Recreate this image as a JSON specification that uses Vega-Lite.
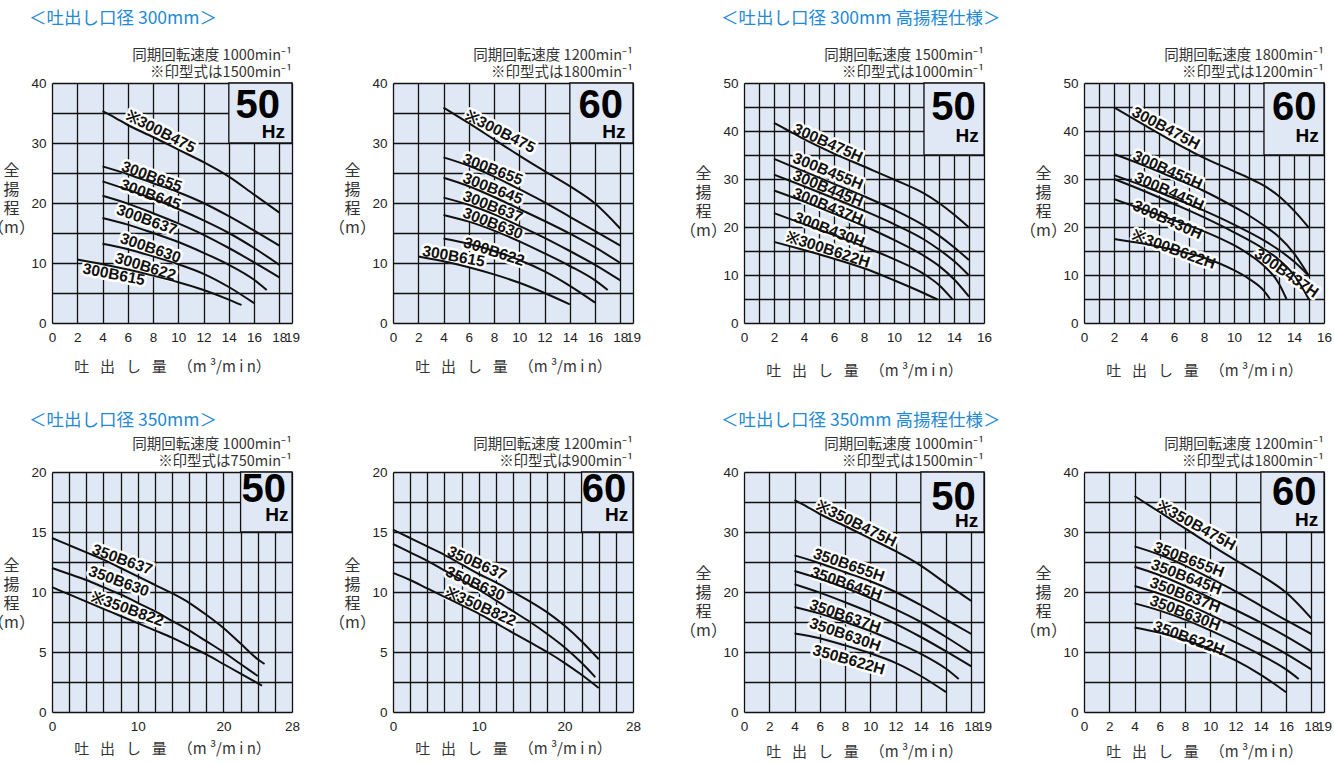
{
"$schema": "https://vega.github.io/schema/vega-lite/v6.json",
"padding": {"left": -13, "top": 10, "right": 0, "bottom": 0},
"datasets": {
"panels": [{"panel":1,"freq":"50"},{"panel":2,"freq":"60"},{"panel":3,"freq":"50"},{"panel":4,"freq":"60"},{"panel":5,"freq":"50"},{"panel":6,"freq":"60"},{"panel":7,"freq":"50"},{"panel":8,"freq":"60"}],
"labels": [
{"panel":1,"label":"※300B475","q":8.6,"h":31.9},{"panel":1,"label":"300B655","q":7.9,"h":24.4},{"panel":1,"label":"300B645","q":7.8,"h":21.4},{"panel":1,"label":"300B637","q":7.5,"h":17.2},{"panel":1,"label":"300B630","q":7.8,"h":12.5},{"panel":1,"label":"300B622","q":7.4,"h":9.4},{"panel":1,"label":"300B615","q":4.9,"h":8.1},
{"panel":2,"label":"※300B475","q":8.5,"h":31.9},{"panel":2,"label":"300B655","q":7.9,"h":25.6},{"panel":2,"label":"300B645","q":7.9,"h":22.4},{"panel":2,"label":"300B637","q":7.9,"h":19.4},{"panel":2,"label":"300B630","q":7.9,"h":16.6},{"panel":2,"label":"300B622","q":8.0,"h":11.9},{"panel":2,"label":"300B615","q":4.8,"h":11.1},
{"panel":3,"label":"300B475H","q":5.6,"h":37.5},{"panel":3,"label":"300B455H","q":5.6,"h":31.6},{"panel":3,"label":"300B445H","q":5.6,"h":28.0},{"panel":3,"label":"300B437H","q":5.6,"h":24.3},{"panel":3,"label":"300B430H","q":5.7,"h":19.4},{"panel":3,"label":"※300B622H","q":5.6,"h":15.3},
{"panel":4,"label":"300B475H","q":5.46,"h":40.6},{"panel":4,"label":"300B455H","q":5.57,"h":31.9},{"panel":4,"label":"300B445H","q":5.68,"h":27.4},{"panel":4,"label":"300B430H","q":5.57,"h":21.5},{"panel":4,"label":"※300B622H","q":6.0,"h":15.3},{"panel":4,"label":"300B437H","q":13.5,"h":10.4},
{"panel":5,"label":"350B637","q":8.2,"h":12.7},{"panel":5,"label":"350B630","q":7.8,"h":10.9},{"panel":5,"label":"※350B822","q":8.8,"h":8.6},
{"panel":6,"label":"350B637","q":9.8,"h":12.4},{"panel":6,"label":"350B630","q":9.6,"h":10.7},{"panel":6,"label":"※350B822","q":10.2,"h":8.8},
{"panel":7,"label":"※350B475H","q":8.9,"h":31.4},{"panel":7,"label":"350B655H","q":8.3,"h":24.5},{"panel":7,"label":"350B645H","q":8.1,"h":21.4},{"panel":7,"label":"350B637H","q":8.0,"h":16.0},{"panel":7,"label":"350B630H","q":8.0,"h":12.9},{"panel":7,"label":"350B622H","q":8.3,"h":8.7},
{"panel":8,"label":"※350B475H","q":8.9,"h":31.1},{"panel":8,"label":"350B655H","q":8.3,"h":25.4},{"panel":8,"label":"350B645H","q":8.1,"h":22.5},{"panel":8,"label":"350B637H","q":8.0,"h":19.5},{"panel":8,"label":"350B630H","q":8.0,"h":16.5},{"panel":8,"label":"350B622H","q":8.3,"h":12.3}
],
"curves": [
{"panel":1,"model":"300B475","q":4,"h":35.3},{"panel":1,"model":"300B475","q":5,"h":34.2},{"panel":1,"model":"300B475","q":6,"h":33.0},{"panel":1,"model":"300B475","q":8,"h":31.0},{"panel":1,"model":"300B475","q":10,"h":28.9},{"panel":1,"model":"300B475","q":12,"h":26.8},{"panel":1,"model":"300B475","q":14,"h":24.4},{"panel":1,"model":"300B475","q":16,"h":21.4},{"panel":1,"model":"300B475","q":18,"h":18.4},
{"panel":1,"model":"300B655","q":4,"h":26.1},{"panel":1,"model":"300B655","q":6,"h":24.8},{"panel":1,"model":"300B655","q":8,"h":23.3},{"panel":1,"model":"300B655","q":10,"h":21.8},{"panel":1,"model":"300B655","q":12,"h":20.0},{"panel":1,"model":"300B655","q":14,"h":17.8},{"panel":1,"model":"300B655","q":16,"h":15.4},{"panel":1,"model":"300B655","q":18,"h":12.9},
{"panel":1,"model":"300B645","q":4,"h":23.6},{"panel":1,"model":"300B645","q":6,"h":22.2},{"panel":1,"model":"300B645","q":8,"h":20.7},{"panel":1,"model":"300B645","q":10,"h":19.0},{"panel":1,"model":"300B645","q":12,"h":17.1},{"panel":1,"model":"300B645","q":14,"h":15.0},{"panel":1,"model":"300B645","q":16,"h":12.5},{"panel":1,"model":"300B645","q":18,"h":9.7},
{"panel":1,"model":"300B637","q":4,"h":21.2},{"panel":1,"model":"300B637","q":6,"h":19.9},{"panel":1,"model":"300B637","q":8,"h":18.3},{"panel":1,"model":"300B637","q":10,"h":16.6},{"panel":1,"model":"300B637","q":12,"h":14.7},{"panel":1,"model":"300B637","q":14,"h":12.5},{"panel":1,"model":"300B637","q":16,"h":10.1},{"panel":1,"model":"300B637","q":18,"h":7.6},
{"panel":1,"model":"300B630","q":4,"h":17.5},{"panel":1,"model":"300B630","q":6,"h":16.4},{"panel":1,"model":"300B630","q":8,"h":15.0},{"panel":1,"model":"300B630","q":10,"h":13.5},{"panel":1,"model":"300B630","q":12,"h":11.7},{"panel":1,"model":"300B630","q":14,"h":9.7},{"panel":1,"model":"300B630","q":16,"h":7.2},{"panel":1,"model":"300B630","q":17,"h":5.5},
{"panel":1,"model":"300B622","q":4,"h":13.2},{"panel":1,"model":"300B622","q":6,"h":12.3},{"panel":1,"model":"300B622","q":8,"h":11.1},{"panel":1,"model":"300B622","q":10,"h":9.8},{"panel":1,"model":"300B622","q":12,"h":8.2},{"panel":1,"model":"300B622","q":14,"h":6.0},{"panel":1,"model":"300B622","q":16,"h":3.3},
{"panel":1,"model":"300B615","q":2,"h":10.6},{"panel":1,"model":"300B615","q":4,"h":9.8},{"panel":1,"model":"300B615","q":6,"h":8.9},{"panel":1,"model":"300B615","q":8,"h":7.9},{"panel":1,"model":"300B615","q":10,"h":6.8},{"panel":1,"model":"300B615","q":12,"h":5.5},{"panel":1,"model":"300B615","q":14,"h":3.9},{"panel":1,"model":"300B615","q":15,"h":3.0},
{"panel":2,"model":"300B475","q":4,"h":35.9},{"panel":2,"model":"300B475","q":6,"h":33.3},{"panel":2,"model":"300B475","q":8,"h":30.6},{"panel":2,"model":"300B475","q":10,"h":27.9},{"panel":2,"model":"300B475","q":12,"h":25.3},{"panel":2,"model":"300B475","q":14,"h":22.8},{"panel":2,"model":"300B475","q":16,"h":19.9},{"panel":2,"model":"300B475","q":18,"h":15.7},
{"panel":2,"model":"300B655","q":4,"h":27.6},{"panel":2,"model":"300B655","q":6,"h":26.2},{"panel":2,"model":"300B655","q":8,"h":24.4},{"panel":2,"model":"300B655","q":10,"h":22.3},{"panel":2,"model":"300B655","q":12,"h":20.1},{"panel":2,"model":"300B655","q":14,"h":17.7},{"panel":2,"model":"300B655","q":16,"h":15.3},{"panel":2,"model":"300B655","q":18,"h":12.9},
{"panel":2,"model":"300B645","q":4,"h":24.2},{"panel":2,"model":"300B645","q":6,"h":22.8},{"panel":2,"model":"300B645","q":8,"h":21.0},{"panel":2,"model":"300B645","q":10,"h":19.0},{"panel":2,"model":"300B645","q":12,"h":17.0},{"panel":2,"model":"300B645","q":14,"h":14.9},{"panel":2,"model":"300B645","q":16,"h":12.6},{"panel":2,"model":"300B645","q":18,"h":10.0},
{"panel":2,"model":"300B637","q":4,"h":20.9},{"panel":2,"model":"300B637","q":6,"h":19.7},{"panel":2,"model":"300B637","q":8,"h":18.1},{"panel":2,"model":"300B637","q":10,"h":16.2},{"panel":2,"model":"300B637","q":12,"h":14.2},{"panel":2,"model":"300B637","q":14,"h":12.0},{"panel":2,"model":"300B637","q":16,"h":9.7},{"panel":2,"model":"300B637","q":18,"h":7.1},
{"panel":2,"model":"300B630","q":4,"h":18.0},{"panel":2,"model":"300B630","q":6,"h":16.9},{"panel":2,"model":"300B630","q":8,"h":15.4},{"panel":2,"model":"300B630","q":10,"h":13.6},{"panel":2,"model":"300B630","q":12,"h":11.6},{"panel":2,"model":"300B630","q":14,"h":9.5},{"panel":2,"model":"300B630","q":16,"h":7.1},{"panel":2,"model":"300B630","q":17,"h":5.5},
{"panel":2,"model":"300B622","q":4,"h":14.1},{"panel":2,"model":"300B622","q":6,"h":13.2},{"panel":2,"model":"300B622","q":8,"h":12.0},{"panel":2,"model":"300B622","q":10,"h":10.5},{"panel":2,"model":"300B622","q":12,"h":8.6},{"panel":2,"model":"300B622","q":14,"h":6.2},{"panel":2,"model":"300B622","q":16,"h":3.4},
{"panel":2,"model":"300B615","q":2,"h":11.1},{"panel":2,"model":"300B615","q":4,"h":10.3},{"panel":2,"model":"300B615","q":6,"h":9.3},{"panel":2,"model":"300B615","q":8,"h":8.1},{"panel":2,"model":"300B615","q":10,"h":6.7},{"panel":2,"model":"300B615","q":12,"h":5.0},{"panel":2,"model":"300B615","q":14,"h":3.1},
{"panel":3,"model":"300B475H","q":2,"h":41.7},{"panel":3,"model":"300B475H","q":3,"h":40.0},{"panel":3,"model":"300B475H","q":4,"h":38.3},{"panel":3,"model":"300B475H","q":6,"h":35.3},{"panel":3,"model":"300B475H","q":8,"h":32.6},{"panel":3,"model":"300B475H","q":10,"h":29.9},{"panel":3,"model":"300B475H","q":12,"h":27.0},{"panel":3,"model":"300B475H","q":13,"h":25.0},{"panel":3,"model":"300B475H","q":14,"h":22.6},{"panel":3,"model":"300B475H","q":15,"h":19.9},
{"panel":3,"model":"300B455H","q":2,"h":34.2},{"panel":3,"model":"300B455H","q":4,"h":31.6},{"panel":3,"model":"300B455H","q":6,"h":29.0},{"panel":3,"model":"300B455H","q":8,"h":26.4},{"panel":3,"model":"300B455H","q":10,"h":23.6},{"panel":3,"model":"300B455H","q":12,"h":20.3},{"panel":3,"model":"300B455H","q":13,"h":18.2},{"panel":3,"model":"300B455H","q":14,"h":15.8},{"panel":3,"model":"300B455H","q":15,"h":13.1},
{"panel":3,"model":"300B445H","q":2,"h":30.9},{"panel":3,"model":"300B445H","q":4,"h":28.5},{"panel":3,"model":"300B445H","q":6,"h":26.0},{"panel":3,"model":"300B445H","q":8,"h":23.4},{"panel":3,"model":"300B445H","q":10,"h":20.6},{"panel":3,"model":"300B445H","q":12,"h":17.4},{"panel":3,"model":"300B445H","q":13,"h":15.3},{"panel":3,"model":"300B445H","q":14,"h":12.9},{"panel":3,"model":"300B445H","q":15,"h":9.9},
{"panel":3,"model":"300B437H","q":2,"h":27.6},{"panel":3,"model":"300B437H","q":4,"h":25.3},{"panel":3,"model":"300B437H","q":6,"h":22.8},{"panel":3,"model":"300B437H","q":8,"h":20.2},{"panel":3,"model":"300B437H","q":10,"h":17.3},{"panel":3,"model":"300B437H","q":12,"h":14.0},{"panel":3,"model":"300B437H","q":13,"h":11.9},{"panel":3,"model":"300B437H","q":14,"h":9.1},{"panel":3,"model":"300B437H","q":15,"h":5.5},
{"panel":3,"model":"300B430H","q":2,"h":22.9},{"panel":3,"model":"300B430H","q":4,"h":20.6},{"panel":3,"model":"300B430H","q":6,"h":18.3},{"panel":3,"model":"300B430H","q":8,"h":15.9},{"panel":3,"model":"300B430H","q":10,"h":13.3},{"panel":3,"model":"300B430H","q":12,"h":10.2},{"panel":3,"model":"300B430H","q":13,"h":7.9},{"panel":3,"model":"300B430H","q":13.9,"h":4.9},
{"panel":3,"model":"300B622H","q":2,"h":16.9},{"panel":3,"model":"300B622H","q":4,"h":15.2},{"panel":3,"model":"300B622H","q":6,"h":13.4},{"panel":3,"model":"300B622H","q":8,"h":11.4},{"panel":3,"model":"300B622H","q":10,"h":8.9},{"panel":3,"model":"300B622H","q":12,"h":6.2},{"panel":3,"model":"300B622H","q":12.9,"h":4.9},
{"panel":4,"model":"300B475H","q":2,"h":44.9},{"panel":4,"model":"300B475H","q":4,"h":41.3},{"panel":4,"model":"300B475H","q":6,"h":37.7},{"panel":4,"model":"300B475H","q":8,"h":34.4},{"panel":4,"model":"300B475H","q":10,"h":31.6},{"panel":4,"model":"300B475H","q":11,"h":30.2},{"panel":4,"model":"300B475H","q":12,"h":28.6},{"panel":4,"model":"300B475H","q":13,"h":26.4},{"panel":4,"model":"300B475H","q":14,"h":23.4},{"panel":4,"model":"300B475H","q":15,"h":19.8},
{"panel":4,"model":"300B455H","q":2,"h":35.2},{"panel":4,"model":"300B455H","q":4,"h":32.8},{"panel":4,"model":"300B455H","q":6,"h":30.2},{"panel":4,"model":"300B455H","q":8,"h":27.5},{"panel":4,"model":"300B455H","q":10,"h":24.2},{"panel":4,"model":"300B455H","q":11,"h":22.4},{"panel":4,"model":"300B455H","q":12,"h":20.3},{"panel":4,"model":"300B455H","q":13,"h":17.9},{"panel":4,"model":"300B455H","q":14,"h":14.5},{"panel":4,"model":"300B455H","q":15,"h":9.8},
{"panel":4,"model":"300B445H","q":2,"h":30.8},{"panel":4,"model":"300B445H","q":4,"h":28.5},{"panel":4,"model":"300B445H","q":6,"h":26.0},{"panel":4,"model":"300B445H","q":8,"h":23.4},{"panel":4,"model":"300B445H","q":10,"h":20.5},{"panel":4,"model":"300B445H","q":12,"h":17.2},{"panel":4,"model":"300B445H","q":13,"h":15.2},{"panel":4,"model":"300B445H","q":14,"h":12.8},{"panel":4,"model":"300B445H","q":15,"h":9.8},
{"panel":4,"model":"300B437H","q":2,"h":30.0},{"panel":4,"model":"300B437H","q":4,"h":27.5},{"panel":4,"model":"300B437H","q":6,"h":24.8},{"panel":4,"model":"300B437H","q":8,"h":22.0},{"panel":4,"model":"300B437H","q":10,"h":18.9},{"panel":4,"model":"300B437H","q":12,"h":15.4},{"panel":4,"model":"300B437H","q":13,"h":13.2},{"panel":4,"model":"300B437H","q":14,"h":10.0},{"panel":4,"model":"300B437H","q":15,"h":4.9},
{"panel":4,"model":"300B430H","q":2,"h":25.8},{"panel":4,"model":"300B430H","q":4,"h":23.6},{"panel":4,"model":"300B430H","q":6,"h":21.4},{"panel":4,"model":"300B430H","q":8,"h":19.1},{"panel":4,"model":"300B430H","q":10,"h":16.2},{"panel":4,"model":"300B430H","q":11,"h":14.3},{"panel":4,"model":"300B430H","q":12,"h":11.9},{"panel":4,"model":"300B430H","q":13,"h":8.2},{"panel":4,"model":"300B430H","q":13.5,"h":5.0},
{"panel":4,"model":"300B622H","q":2,"h":17.5},{"panel":4,"model":"300B622H","q":4,"h":16.5},{"panel":4,"model":"300B622H","q":6,"h":15.2},{"panel":4,"model":"300B622H","q":8,"h":13.6},{"panel":4,"model":"300B622H","q":10,"h":11.0},{"panel":4,"model":"300B622H","q":11,"h":9.2},{"panel":4,"model":"300B622H","q":12,"h":6.7},{"panel":4,"model":"300B622H","q":12.4,"h":5.0},
{"panel":5,"model":"350B637","q":0,"h":14.5},{"panel":5,"model":"350B637","q":2,"h":13.9},{"panel":5,"model":"350B637","q":4,"h":13.3},{"panel":5,"model":"350B637","q":6,"h":12.7},{"panel":5,"model":"350B637","q":8,"h":12.0},{"panel":5,"model":"350B637","q":10,"h":11.3},{"panel":5,"model":"350B637","q":12,"h":10.6},{"panel":5,"model":"350B637","q":14,"h":9.9},{"panel":5,"model":"350B637","q":16,"h":9.1},{"panel":5,"model":"350B637","q":18,"h":8.1},{"panel":5,"model":"350B637","q":20,"h":7.0},{"panel":5,"model":"350B637","q":22,"h":5.7},{"panel":5,"model":"350B637","q":24,"h":4.4},{"panel":5,"model":"350B637","q":24.8,"h":4.0},
{"panel":5,"model":"350B630","q":0,"h":12.0},{"panel":5,"model":"350B630","q":2,"h":11.5},{"panel":5,"model":"350B630","q":4,"h":11.0},{"panel":5,"model":"350B630","q":6,"h":10.4},{"panel":5,"model":"350B630","q":8,"h":9.8},{"panel":5,"model":"350B630","q":10,"h":9.1},{"panel":5,"model":"350B630","q":12,"h":8.4},{"panel":5,"model":"350B630","q":14,"h":7.6},{"panel":5,"model":"350B630","q":16,"h":6.8},{"panel":5,"model":"350B630","q":18,"h":5.9},{"panel":5,"model":"350B630","q":20,"h":5.0},{"panel":5,"model":"350B630","q":22,"h":4.0},{"panel":5,"model":"350B630","q":24,"h":3.0},
{"panel":5,"model":"350B822","q":0,"h":10.4},{"panel":5,"model":"350B822","q":2,"h":9.8},{"panel":5,"model":"350B822","q":4,"h":9.2},{"panel":5,"model":"350B822","q":6,"h":8.6},{"panel":5,"model":"350B822","q":8,"h":8.0},{"panel":5,"model":"350B822","q":10,"h":7.4},{"panel":5,"model":"350B822","q":12,"h":6.8},{"panel":5,"model":"350B822","q":14,"h":6.2},{"panel":5,"model":"350B822","q":16,"h":5.5},{"panel":5,"model":"350B822","q":18,"h":4.8},{"panel":5,"model":"350B822","q":20,"h":4.0},{"panel":5,"model":"350B822","q":22,"h":3.2},{"panel":5,"model":"350B822","q":24.5,"h":2.2},
{"panel":6,"model":"350B637","q":0,"h":15.2},{"panel":6,"model":"350B637","q":2,"h":14.5},{"panel":6,"model":"350B637","q":4,"h":13.8},{"panel":6,"model":"350B637","q":6,"h":13.1},{"panel":6,"model":"350B637","q":8,"h":12.3},{"panel":6,"model":"350B637","q":10,"h":11.5},{"panel":6,"model":"350B637","q":12,"h":10.8},{"panel":6,"model":"350B637","q":14,"h":10.0},{"panel":6,"model":"350B637","q":16,"h":9.2},{"panel":6,"model":"350B637","q":18,"h":8.3},{"panel":6,"model":"350B637","q":20,"h":7.2},{"panel":6,"model":"350B637","q":22,"h":5.9},{"panel":6,"model":"350B637","q":24,"h":4.4},
{"panel":6,"model":"350B630","q":0,"h":14.0},{"panel":6,"model":"350B630","q":2,"h":13.3},{"panel":6,"model":"350B630","q":4,"h":12.6},{"panel":6,"model":"350B630","q":6,"h":11.8},{"panel":6,"model":"350B630","q":8,"h":11.0},{"panel":6,"model":"350B630","q":10,"h":10.2},{"panel":6,"model":"350B630","q":12,"h":9.3},{"panel":6,"model":"350B630","q":14,"h":8.4},{"panel":6,"model":"350B630","q":16,"h":7.5},{"panel":6,"model":"350B630","q":18,"h":6.5},{"panel":6,"model":"350B630","q":20,"h":5.4},{"panel":6,"model":"350B630","q":22,"h":4.1},{"panel":6,"model":"350B630","q":23.6,"h":2.9},
{"panel":6,"model":"350B822","q":0,"h":11.6},{"panel":6,"model":"350B822","q":2,"h":11.0},{"panel":6,"model":"350B822","q":4,"h":10.3},{"panel":6,"model":"350B822","q":6,"h":9.6},{"panel":6,"model":"350B822","q":8,"h":8.9},{"panel":6,"model":"350B822","q":10,"h":8.2},{"panel":6,"model":"350B822","q":12,"h":7.4},{"panel":6,"model":"350B822","q":14,"h":6.6},{"panel":6,"model":"350B822","q":16,"h":5.8},{"panel":6,"model":"350B822","q":18,"h":5.0},{"panel":6,"model":"350B822","q":20,"h":4.1},{"panel":6,"model":"350B822","q":22,"h":3.1},{"panel":6,"model":"350B822","q":24,"h":2.0},
{"panel":7,"model":"350B475H","q":4,"h":35.3},{"panel":7,"model":"350B475H","q":5,"h":34.2},{"panel":7,"model":"350B475H","q":6,"h":33.0},{"panel":7,"model":"350B475H","q":8,"h":31.0},{"panel":7,"model":"350B475H","q":10,"h":28.9},{"panel":7,"model":"350B475H","q":12,"h":26.8},{"panel":7,"model":"350B475H","q":14,"h":24.4},{"panel":7,"model":"350B475H","q":16,"h":21.4},{"panel":7,"model":"350B475H","q":18,"h":18.5},
{"panel":7,"model":"350B655H","q":4,"h":26.1},{"panel":7,"model":"350B655H","q":6,"h":24.8},{"panel":7,"model":"350B655H","q":8,"h":23.3},{"panel":7,"model":"350B655H","q":10,"h":21.8},{"panel":7,"model":"350B655H","q":12,"h":20.0},{"panel":7,"model":"350B655H","q":14,"h":17.8},{"panel":7,"model":"350B655H","q":16,"h":15.4},{"panel":7,"model":"350B655H","q":18,"h":13.0},
{"panel":7,"model":"350B645H","q":4,"h":23.5},{"panel":7,"model":"350B645H","q":6,"h":22.2},{"panel":7,"model":"350B645H","q":8,"h":20.7},{"panel":7,"model":"350B645H","q":10,"h":19.0},{"panel":7,"model":"350B645H","q":12,"h":17.1},{"panel":7,"model":"350B645H","q":14,"h":15.0},{"panel":7,"model":"350B645H","q":16,"h":12.5},{"panel":7,"model":"350B645H","q":18,"h":9.8},
{"panel":7,"model":"350B637H","q":4,"h":21.3},{"panel":7,"model":"350B637H","q":6,"h":19.9},{"panel":7,"model":"350B637H","q":8,"h":18.3},{"panel":7,"model":"350B637H","q":10,"h":16.6},{"panel":7,"model":"350B637H","q":12,"h":14.7},{"panel":7,"model":"350B637H","q":14,"h":12.5},{"panel":7,"model":"350B637H","q":16,"h":10.1},{"panel":7,"model":"350B637H","q":18,"h":7.6},
{"panel":7,"model":"350B630H","q":4,"h":17.5},{"panel":7,"model":"350B630H","q":6,"h":16.4},{"panel":7,"model":"350B630H","q":8,"h":15.0},{"panel":7,"model":"350B630H","q":10,"h":13.5},{"panel":7,"model":"350B630H","q":12,"h":11.7},{"panel":7,"model":"350B630H","q":14,"h":9.7},{"panel":7,"model":"350B630H","q":16,"h":7.2},{"panel":7,"model":"350B630H","q":17,"h":5.5},
{"panel":7,"model":"350B622H","q":4,"h":13.1},{"panel":7,"model":"350B622H","q":6,"h":12.3},{"panel":7,"model":"350B622H","q":8,"h":11.1},{"panel":7,"model":"350B622H","q":10,"h":9.8},{"panel":7,"model":"350B622H","q":12,"h":8.2},{"panel":7,"model":"350B622H","q":14,"h":6.0},{"panel":7,"model":"350B622H","q":16,"h":3.3},
{"panel":8,"model":"350B475H","q":4,"h":36.0},{"panel":8,"model":"350B475H","q":6,"h":33.3},{"panel":8,"model":"350B475H","q":8,"h":30.6},{"panel":8,"model":"350B475H","q":10,"h":27.9},{"panel":8,"model":"350B475H","q":12,"h":25.3},{"panel":8,"model":"350B475H","q":14,"h":22.8},{"panel":8,"model":"350B475H","q":16,"h":19.9},{"panel":8,"model":"350B475H","q":18,"h":15.6},
{"panel":8,"model":"350B655H","q":4,"h":27.6},{"panel":8,"model":"350B655H","q":6,"h":26.2},{"panel":8,"model":"350B655H","q":8,"h":24.4},{"panel":8,"model":"350B655H","q":10,"h":22.3},{"panel":8,"model":"350B655H","q":12,"h":20.1},{"panel":8,"model":"350B655H","q":14,"h":17.7},{"panel":8,"model":"350B655H","q":16,"h":15.3},{"panel":8,"model":"350B655H","q":18,"h":13.0},
{"panel":8,"model":"350B645H","q":4,"h":24.2},{"panel":8,"model":"350B645H","q":6,"h":22.8},{"panel":8,"model":"350B645H","q":8,"h":21.0},{"panel":8,"model":"350B645H","q":10,"h":19.0},{"panel":8,"model":"350B645H","q":12,"h":17.0},{"panel":8,"model":"350B645H","q":14,"h":14.9},{"panel":8,"model":"350B645H","q":16,"h":12.6},{"panel":8,"model":"350B645H","q":18,"h":10.1},
{"panel":8,"model":"350B637H","q":4,"h":21.0},{"panel":8,"model":"350B637H","q":6,"h":19.7},{"panel":8,"model":"350B637H","q":8,"h":18.1},{"panel":8,"model":"350B637H","q":10,"h":16.2},{"panel":8,"model":"350B637H","q":12,"h":14.2},{"panel":8,"model":"350B637H","q":14,"h":12.0},{"panel":8,"model":"350B637H","q":16,"h":9.7},{"panel":8,"model":"350B637H","q":18,"h":7.1},
{"panel":8,"model":"350B630H","q":4,"h":18.1},{"panel":8,"model":"350B630H","q":6,"h":16.9},{"panel":8,"model":"350B630H","q":8,"h":15.4},{"panel":8,"model":"350B630H","q":10,"h":13.6},{"panel":8,"model":"350B630H","q":12,"h":11.6},{"panel":8,"model":"350B630H","q":14,"h":9.5},{"panel":8,"model":"350B630H","q":16,"h":7.1},{"panel":8,"model":"350B630H","q":17,"h":5.5},
{"panel":8,"model":"350B622H","q":4,"h":14.1},{"panel":8,"model":"350B622H","q":6,"h":13.2},{"panel":8,"model":"350B622H","q":8,"h":12.0},{"panel":8,"model":"350B622H","q":10,"h":10.5},{"panel":8,"model":"350B622H","q":12,"h":8.6},{"panel":8,"model":"350B622H","q":14,"h":6.2},{"panel":8,"model":"350B622H","q":16,"h":3.3}
]
},
"resolve": {"scale": {"angle": "independent"}},
"spacing": 33,
"vconcat": [
{"hconcat": [
{"title": {"text": "＜吐出し口径 300mm＞", "anchor": "start", "frame": "group", "align": "left", "dx": -23, "color": "#2489d3", "fontSize": 17.5, "offset": 20},
 "bounds": "flush", "spacing": 101, "resolve": {"scale": {"angle": "independent"}},
 "hconcat": [
{"width": 240, "height": 240, "title": {"text": ["同期回転速度 1000min⁻¹", "※印型式は1500min⁻¹"]},
 "layer": [
 {"data": {"name": "panels"}, "transform": [{"filter": "datum.panel == 1"}], "mark": {"type": "rect", "fill": "#dfe8f4", "stroke": "#111111", "strokeWidth": 1.3}, "encoding": {"x": {"datum": 14}, "x2": {"datum": 19}, "y": {"datum": 30}, "y2": {"datum": 40}}},
 {"data": {"name": "labels"}, "transform": [{"filter": "datum.panel == 1"}], "mark": {"type": "text", "font": "Liberation Sans", "fontWeight": "bold", "fontSize": 15.5, "fill": "#ffffff", "stroke": "#ffffff", "strokeWidth": 5, "strokeJoin": "round"}, "encoding": {"x": {"field": "q", "type": "quantitative"}, "y": {"field": "h", "type": "quantitative"}, "text": {"field": "label"}, "angle": {"field": "label", "type": "nominal", "scale": {"type": "ordinal", "domain": ["※300B475","300B655","300B645","300B637","300B630","300B622","300B615"], "range": [27,20,20,20,19,17,11]}, "legend": null}}},
 {"data": {"name": "curves"}, "transform": [{"filter": "datum.panel == 1"}], "mark": {"type": "line", "color": "#111111", "strokeWidth": 2, "interpolate": "monotone"}, "encoding": {"x": {"field": "q", "type": "quantitative", "scale": {"domain": [0, 19], "nice": false, "zero": false}, "axis": {"title": "吐\u2002 出\u2002 し\u2002 量\u2002 （m ³/m i n）", "values": [0,2,4,6,8,10,12,14,16,18,19]}}, "y": {"field": "h", "type": "quantitative", "scale": {"domain": [0, 40], "nice": false}, "axis": {"title": ["全","揚","程","（m）"], "values": [0,5,10,15,20,25,30,35,40], "labelExpr": "datum.value % 10 === 0 ? datum.label : ''"}}, "detail": {"field": "model"}}},
 {"data": {"name": "labels"}, "transform": [{"filter": "datum.panel == 1"}], "mark": {"type": "text", "font": "Liberation Sans", "fontWeight": "bold", "fontSize": 15.5, "fill": "#111111"}, "encoding": {"x": {"field": "q", "type": "quantitative"}, "y": {"field": "h", "type": "quantitative"}, "text": {"field": "label"}, "angle": {"field": "label", "type": "nominal", "scale": {"type": "ordinal", "domain": ["※300B475","300B655","300B645","300B637","300B630","300B622","300B615"], "range": [27,20,20,20,19,17,11]}, "legend": null}}},
 {"data": {"name": "panels"}, "transform": [{"filter": "datum.panel == 1"}], "mark": {"type": "text", "font": "Liberation Sans", "fontWeight": "bold", "fontSize": 40, "align": "right", "baseline": "alphabetic", "fill": "#000000"}, "encoding": {"x": {"datum": 18.05}, "y": {"datum": 34.2}, "text": {"field": "freq"}}},
 {"data": {"name": "panels"}, "transform": [{"filter": "datum.panel == 1"}], "mark": {"type": "text", "text": "Hz", "font": "Liberation Sans", "fontWeight": "bold", "fontSize": 19, "align": "right", "baseline": "alphabetic", "fill": "#000000"}, "encoding": {"x": {"datum": 18.45}, "y": {"datum": 30.8}}}
 ]},
{"width": 240, "height": 240, "title": {"text": ["同期回転速度 1200min⁻¹", "※印型式は1800min⁻¹"]},
 "layer": [
 {"data": {"name": "panels"}, "transform": [{"filter": "datum.panel == 2"}], "mark": {"type": "rect", "fill": "#dfe8f4", "stroke": "#111111", "strokeWidth": 1.3}, "encoding": {"x": {"datum": 14}, "x2": {"datum": 19}, "y": {"datum": 30}, "y2": {"datum": 40}}},
 {"data": {"name": "labels"}, "transform": [{"filter": "datum.panel == 2"}], "mark": {"type": "text", "font": "Liberation Sans", "fontWeight": "bold", "fontSize": 15.5, "fill": "#ffffff", "stroke": "#ffffff", "strokeWidth": 5, "strokeJoin": "round"}, "encoding": {"x": {"field": "q", "type": "quantitative"}, "y": {"field": "h", "type": "quantitative"}, "text": {"field": "label"}, "angle": {"field": "label", "type": "nominal", "scale": {"type": "ordinal", "domain": ["※300B475","300B655","300B645","300B637","300B630","300B622","300B615"], "range": [27,21,21,21,21,18,10]}, "legend": null}}},
 {"data": {"name": "curves"}, "transform": [{"filter": "datum.panel == 2"}], "mark": {"type": "line", "color": "#111111", "strokeWidth": 2, "interpolate": "monotone"}, "encoding": {"x": {"field": "q", "type": "quantitative", "scale": {"domain": [0, 19], "nice": false, "zero": false}, "axis": {"title": "吐\u2002 出\u2002 し\u2002 量\u2002 （m ³/m i n）", "values": [0,2,4,6,8,10,12,14,16,18,19]}}, "y": {"field": "h", "type": "quantitative", "scale": {"domain": [0, 40], "nice": false}, "axis": {"title": ["全","揚","程","（m）"], "values": [0,5,10,15,20,25,30,35,40], "labelExpr": "datum.value % 10 === 0 ? datum.label : ''"}}, "detail": {"field": "model"}}},
 {"data": {"name": "labels"}, "transform": [{"filter": "datum.panel == 2"}], "mark": {"type": "text", "font": "Liberation Sans", "fontWeight": "bold", "fontSize": 15.5, "fill": "#111111"}, "encoding": {"x": {"field": "q", "type": "quantitative"}, "y": {"field": "h", "type": "quantitative"}, "text": {"field": "label"}, "angle": {"field": "label", "type": "nominal", "scale": {"type": "ordinal", "domain": ["※300B475","300B655","300B645","300B637","300B630","300B622","300B615"], "range": [27,21,21,21,21,18,10]}, "legend": null}}},
 {"data": {"name": "panels"}, "transform": [{"filter": "datum.panel == 2"}], "mark": {"type": "text", "font": "Liberation Sans", "fontWeight": "bold", "fontSize": 40, "align": "right", "baseline": "alphabetic", "fill": "#000000"}, "encoding": {"x": {"datum": 18.2}, "y": {"datum": 34.2}, "text": {"field": "freq"}}},
 {"data": {"name": "panels"}, "transform": [{"filter": "datum.panel == 2"}], "mark": {"type": "text", "text": "Hz", "font": "Liberation Sans", "fontWeight": "bold", "fontSize": 19, "align": "right", "baseline": "alphabetic", "fill": "#000000"}, "encoding": {"x": {"datum": 18.4}, "y": {"datum": 30.8}}}
 ]}
]},
{"title": {"text": "＜吐出し口径 300mm 高揚程仕様＞", "anchor": "start", "frame": "group", "align": "left", "dx": -23, "color": "#2489d3", "fontSize": 17.5, "offset": 20},
 "bounds": "flush", "spacing": 100, "resolve": {"scale": {"angle": "independent"}},
 "hconcat": [
{"width": 240, "height": 240, "title": {"text": ["同期回転速度 1500min⁻¹", "※印型式は1000min⁻¹"]},
 "layer": [
 {"data": {"name": "panels"}, "transform": [{"filter": "datum.panel == 3"}], "mark": {"type": "rect", "fill": "#dfe8f4", "stroke": "#111111", "strokeWidth": 1.3}, "encoding": {"x": {"datum": 12}, "x2": {"datum": 16}, "y": {"datum": 35}, "y2": {"datum": 50}}},
 {"data": {"name": "labels"}, "transform": [{"filter": "datum.panel == 3"}], "mark": {"type": "text", "font": "Liberation Sans", "fontWeight": "bold", "fontSize": 15.5, "fill": "#ffffff", "stroke": "#ffffff", "strokeWidth": 5, "strokeJoin": "round"}, "encoding": {"x": {"field": "q", "type": "quantitative"}, "y": {"field": "h", "type": "quantitative"}, "text": {"field": "label"}, "angle": {"field": "label", "type": "nominal", "scale": {"type": "ordinal", "domain": ["300B475H","300B455H","300B445H","300B437H","300B430H","※300B622H"], "range": [24,22,22,22,21,18]}, "legend": null}}},
 {"data": {"name": "curves"}, "transform": [{"filter": "datum.panel == 3"}], "mark": {"type": "line", "color": "#111111", "strokeWidth": 2, "interpolate": "monotone"}, "encoding": {"x": {"field": "q", "type": "quantitative", "scale": {"domain": [0, 16], "nice": false, "zero": false}, "axis": {"title": "吐\u2002 出\u2002 し\u2002 量\u2002 （m ³/m i n）", "titlePadding": 20, "values": [0,1,2,3,4,5,6,7,8,9,10,11,12,13,14,15,16], "labelExpr": "datum.value % 2 === 0 ? datum.label : ''"}}, "y": {"field": "h", "type": "quantitative", "scale": {"domain": [0, 50], "nice": false}, "axis": {"title": ["全","揚","程","（m）"], "titleY": 90, "values": [0,5,10,15,20,25,30,35,40,45,50], "labelExpr": "datum.value % 10 === 0 ? datum.label : ''"}}, "detail": {"field": "model"}}},
 {"data": {"name": "labels"}, "transform": [{"filter": "datum.panel == 3"}], "mark": {"type": "text", "font": "Liberation Sans", "fontWeight": "bold", "fontSize": 15.5, "fill": "#111111"}, "encoding": {"x": {"field": "q", "type": "quantitative"}, "y": {"field": "h", "type": "quantitative"}, "text": {"field": "label"}, "angle": {"field": "label", "type": "nominal", "scale": {"type": "ordinal", "domain": ["300B475H","300B455H","300B445H","300B437H","300B430H","※300B622H"], "range": [24,22,22,22,21,18]}, "legend": null}}},
 {"data": {"name": "panels"}, "transform": [{"filter": "datum.panel == 3"}], "mark": {"type": "text", "font": "Liberation Sans", "fontWeight": "bold", "fontSize": 40, "align": "right", "baseline": "alphabetic", "fill": "#000000"}, "encoding": {"x": {"datum": 15.45}, "y": {"datum": 42.3}, "text": {"field": "freq"}}},
 {"data": {"name": "panels"}, "transform": [{"filter": "datum.panel == 3"}], "mark": {"type": "text", "text": "Hz", "font": "Liberation Sans", "fontWeight": "bold", "fontSize": 19, "align": "right", "baseline": "alphabetic", "fill": "#000000"}, "encoding": {"x": {"datum": 15.65}, "y": {"datum": 37.7}}}
 ]},
{"width": 240, "height": 240, "title": {"text": ["同期回転速度 1800min⁻¹", "※印型式は1200min⁻¹"]},
 "layer": [
 {"data": {"name": "panels"}, "transform": [{"filter": "datum.panel == 4"}], "mark": {"type": "rect", "fill": "#dfe8f4", "stroke": "#111111", "strokeWidth": 1.3}, "encoding": {"x": {"datum": 12}, "x2": {"datum": 16}, "y": {"datum": 35}, "y2": {"datum": 50}}},
 {"data": {"name": "labels"}, "transform": [{"filter": "datum.panel == 4"}], "mark": {"type": "text", "font": "Liberation Sans", "fontWeight": "bold", "fontSize": 15.5, "fill": "#ffffff", "stroke": "#ffffff", "strokeWidth": 5, "strokeJoin": "round"}, "encoding": {"x": {"field": "q", "type": "quantitative"}, "y": {"field": "h", "type": "quantitative"}, "text": {"field": "label"}, "angle": {"field": "label", "type": "nominal", "scale": {"type": "ordinal", "domain": ["300B475H","300B455H","300B445H","300B430H","※300B622H","300B437H"], "range": [28,24,24,24,20,35]}, "legend": null}}},
 {"data": {"name": "curves"}, "transform": [{"filter": "datum.panel == 4"}], "mark": {"type": "line", "color": "#111111", "strokeWidth": 2, "interpolate": "monotone"}, "encoding": {"x": {"field": "q", "type": "quantitative", "scale": {"domain": [0, 16], "nice": false, "zero": false}, "axis": {"title": "吐\u2002 出\u2002 し\u2002 量\u2002 （m ³/m i n）", "titlePadding": 20, "values": [0,1,2,3,4,5,6,7,8,9,10,11,12,13,14,15,16], "labelExpr": "datum.value % 2 === 0 ? datum.label : ''"}}, "y": {"field": "h", "type": "quantitative", "scale": {"domain": [0, 50], "nice": false}, "axis": {"title": ["全","揚","程","（m）"], "titleY": 90, "values": [0,5,10,15,20,25,30,35,40,45,50], "labelExpr": "datum.value % 10 === 0 ? datum.label : ''"}}, "detail": {"field": "model"}}},
 {"data": {"name": "labels"}, "transform": [{"filter": "datum.panel == 4"}], "mark": {"type": "text", "font": "Liberation Sans", "fontWeight": "bold", "fontSize": 15.5, "fill": "#111111"}, "encoding": {"x": {"field": "q", "type": "quantitative"}, "y": {"field": "h", "type": "quantitative"}, "text": {"field": "label"}, "angle": {"field": "label", "type": "nominal", "scale": {"type": "ordinal", "domain": ["300B475H","300B455H","300B445H","300B430H","※300B622H","300B437H"], "range": [28,24,24,24,20,35]}, "legend": null}}},
 {"data": {"name": "panels"}, "transform": [{"filter": "datum.panel == 4"}], "mark": {"type": "text", "font": "Liberation Sans", "fontWeight": "bold", "fontSize": 40, "align": "right", "baseline": "alphabetic", "fill": "#000000"}, "encoding": {"x": {"datum": 15.5}, "y": {"datum": 42.3}, "text": {"field": "freq"}}},
 {"data": {"name": "panels"}, "transform": [{"filter": "datum.panel == 4"}], "mark": {"type": "text", "text": "Hz", "font": "Liberation Sans", "fontWeight": "bold", "fontSize": 19, "align": "right", "baseline": "alphabetic", "fill": "#000000"}, "encoding": {"x": {"datum": 15.65}, "y": {"datum": 37.7}}}
 ]}
]}
], "spacing": 38, "resolve": {"scale": {"angle": "independent"}}},
{"hconcat": [
{"title": {"text": "＜吐出し口径 350mm＞", "anchor": "start", "frame": "group", "align": "left", "dx": -23, "color": "#2489d3", "fontSize": 17.5, "offset": 7},
 "bounds": "flush", "spacing": 101, "resolve": {"scale": {"angle": "independent"}},
 "hconcat": [
{"width": 240, "height": 240, "title": {"text": ["同期回転速度 1000min⁻¹", "※印型式は750min⁻¹"]},
 "layer": [
 {"data": {"name": "panels"}, "transform": [{"filter": "datum.panel == 5"}], "mark": {"type": "rect", "fill": "#dfe8f4", "stroke": "#111111", "strokeWidth": 1.3}, "encoding": {"x": {"datum": 22}, "x2": {"datum": 28}, "y": {"datum": 15}, "y2": {"datum": 20}}},
 {"data": {"name": "labels"}, "transform": [{"filter": "datum.panel == 5"}], "mark": {"type": "text", "font": "Liberation Sans", "fontWeight": "bold", "fontSize": 15.5, "fill": "#ffffff", "stroke": "#ffffff", "strokeWidth": 5, "strokeJoin": "round"}, "encoding": {"x": {"field": "q", "type": "quantitative"}, "y": {"field": "h", "type": "quantitative"}, "text": {"field": "label"}, "angle": {"field": "label", "type": "nominal", "scale": {"type": "ordinal", "domain": ["350B637","350B630","※350B822"], "range": [20,20,20]}, "legend": null}}},
 {"data": {"name": "curves"}, "transform": [{"filter": "datum.panel == 5"}], "mark": {"type": "line", "color": "#111111", "strokeWidth": 2, "interpolate": "monotone"}, "encoding": {"x": {"field": "q", "type": "quantitative", "scale": {"domain": [0, 28], "nice": false, "zero": false}, "axis": {"title": "吐\u2002 出\u2002 し\u2002 量\u2002 （m ³/m i n）", "titlePadding": 9, "values": [0,2,4,6,8,10,12,14,16,18,20,22,24,26,28], "labelExpr": "indexof([0,10,20,28], datum.value) >= 0 ? datum.label : ''"}}, "y": {"field": "h", "type": "quantitative", "scale": {"domain": [0, 20], "nice": false}, "axis": {"title": ["全","揚","程","（m）"], "titleY": 93, "values": [0,2.5,5,7.5,10,12.5,15,17.5,20], "labelExpr": "datum.value % 5 === 0 ? datum.label : ''"}}, "detail": {"field": "model"}}},
 {"data": {"name": "labels"}, "transform": [{"filter": "datum.panel == 5"}], "mark": {"type": "text", "font": "Liberation Sans", "fontWeight": "bold", "fontSize": 15.5, "fill": "#111111"}, "encoding": {"x": {"field": "q", "type": "quantitative"}, "y": {"field": "h", "type": "quantitative"}, "text": {"field": "label"}, "angle": {"field": "label", "type": "nominal", "scale": {"type": "ordinal", "domain": ["350B637","350B630","※350B822"], "range": [20,20,20]}, "legend": null}}},
 {"data": {"name": "panels"}, "transform": [{"filter": "datum.panel == 5"}], "mark": {"type": "text", "font": "Liberation Sans", "fontWeight": "bold", "fontSize": 40, "align": "right", "baseline": "alphabetic", "fill": "#000000"}, "encoding": {"x": {"datum": 27.3}, "y": {"datum": 17.5}, "text": {"field": "freq"}}},
 {"data": {"name": "panels"}, "transform": [{"filter": "datum.panel == 5"}], "mark": {"type": "text", "text": "Hz", "font": "Liberation Sans", "fontWeight": "bold", "fontSize": 19, "align": "right", "baseline": "alphabetic", "fill": "#000000"}, "encoding": {"x": {"datum": 27.6}, "y": {"datum": 15.9}}}
 ]},
{"width": 240, "height": 240, "title": {"text": ["同期回転速度 1200min⁻¹", "※印型式は900min⁻¹"]},
 "layer": [
 {"data": {"name": "panels"}, "transform": [{"filter": "datum.panel == 6"}], "mark": {"type": "rect", "fill": "#dfe8f4", "stroke": "#111111", "strokeWidth": 1.3}, "encoding": {"x": {"datum": 22}, "x2": {"datum": 28}, "y": {"datum": 15}, "y2": {"datum": 20}}},
 {"data": {"name": "labels"}, "transform": [{"filter": "datum.panel == 6"}], "mark": {"type": "text", "font": "Liberation Sans", "fontWeight": "bold", "fontSize": 15.5, "fill": "#ffffff", "stroke": "#ffffff", "strokeWidth": 5, "strokeJoin": "round"}, "encoding": {"x": {"field": "q", "type": "quantitative"}, "y": {"field": "h", "type": "quantitative"}, "text": {"field": "label"}, "angle": {"field": "label", "type": "nominal", "scale": {"type": "ordinal", "domain": ["350B637","350B630","※350B822"], "range": [24,24,24]}, "legend": null}}},
 {"data": {"name": "curves"}, "transform": [{"filter": "datum.panel == 6"}], "mark": {"type": "line", "color": "#111111", "strokeWidth": 2, "interpolate": "monotone"}, "encoding": {"x": {"field": "q", "type": "quantitative", "scale": {"domain": [0, 28], "nice": false, "zero": false}, "axis": {"title": "吐\u2002 出\u2002 し\u2002 量\u2002 （m ³/m i n）", "titlePadding": 9, "values": [0,2,4,6,8,10,12,14,16,18,20,22,24,26,28], "labelExpr": "indexof([0,10,20,28], datum.value) >= 0 ? datum.label : ''"}}, "y": {"field": "h", "type": "quantitative", "scale": {"domain": [0, 20], "nice": false}, "axis": {"title": ["全","揚","程","（m）"], "titleY": 93, "values": [0,2.5,5,7.5,10,12.5,15,17.5,20], "labelExpr": "datum.value % 5 === 0 ? datum.label : ''"}}, "detail": {"field": "model"}}},
 {"data": {"name": "labels"}, "transform": [{"filter": "datum.panel == 6"}], "mark": {"type": "text", "font": "Liberation Sans", "fontWeight": "bold", "fontSize": 15.5, "fill": "#111111"}, "encoding": {"x": {"field": "q", "type": "quantitative"}, "y": {"field": "h", "type": "quantitative"}, "text": {"field": "label"}, "angle": {"field": "label", "type": "nominal", "scale": {"type": "ordinal", "domain": ["350B637","350B630","※350B822"], "range": [24,24,24]}, "legend": null}}},
 {"data": {"name": "panels"}, "transform": [{"filter": "datum.panel == 6"}], "mark": {"type": "text", "font": "Liberation Sans", "fontWeight": "bold", "fontSize": 40, "align": "right", "baseline": "alphabetic", "fill": "#000000"}, "encoding": {"x": {"datum": 27.2}, "y": {"datum": 17.5}, "text": {"field": "freq"}}},
 {"data": {"name": "panels"}, "transform": [{"filter": "datum.panel == 6"}], "mark": {"type": "text", "text": "Hz", "font": "Liberation Sans", "fontWeight": "bold", "fontSize": 19, "align": "right", "baseline": "alphabetic", "fill": "#000000"}, "encoding": {"x": {"datum": 27.45}, "y": {"datum": 15.9}}}
 ]}
]},
{"title": {"text": "＜吐出し口径 350mm 高揚程仕様＞", "anchor": "start", "frame": "group", "align": "left", "dx": -23, "color": "#2489d3", "fontSize": 17.5, "offset": 7},
 "bounds": "flush", "spacing": 100, "resolve": {"scale": {"angle": "independent"}},
 "hconcat": [
{"width": 240, "height": 240, "title": {"text": ["同期回転速度 1000min⁻¹", "※印型式は1500min⁻¹"]},
 "layer": [
 {"data": {"name": "panels"}, "transform": [{"filter": "datum.panel == 7"}], "mark": {"type": "rect", "fill": "#dfe8f4", "stroke": "#111111", "strokeWidth": 1.3}, "encoding": {"x": {"datum": 14}, "x2": {"datum": 19}, "y": {"datum": 30}, "y2": {"datum": 40}}},
 {"data": {"name": "labels"}, "transform": [{"filter": "datum.panel == 7"}], "mark": {"type": "text", "font": "Liberation Sans", "fontWeight": "bold", "fontSize": 15.5, "fill": "#ffffff", "stroke": "#ffffff", "strokeWidth": 5, "strokeJoin": "round"}, "encoding": {"x": {"field": "q", "type": "quantitative"}, "y": {"field": "h", "type": "quantitative"}, "text": {"field": "label"}, "angle": {"field": "label", "type": "nominal", "scale": {"type": "ordinal", "domain": ["※350B475H","350B655H","350B645H","350B637H","350B630H","350B622H"], "range": [26,19,19,19,19,16]}, "legend": null}}},
 {"data": {"name": "curves"}, "transform": [{"filter": "datum.panel == 7"}], "mark": {"type": "line", "color": "#111111", "strokeWidth": 2, "interpolate": "monotone"}, "encoding": {"x": {"field": "q", "type": "quantitative", "scale": {"domain": [0, 19], "nice": false, "zero": false}, "axis": {"title": "吐\u2002 出\u2002 し\u2002 量\u2002 （m ³/m i n）", "titlePadding": 12, "values": [0,2,4,6,8,10,12,14,16,18,19]}}, "y": {"field": "h", "type": "quantitative", "scale": {"domain": [0, 40], "nice": false}, "axis": {"title": ["全","揚","程","（m）"], "titleY": 101, "values": [0,5,10,15,20,25,30,35,40], "labelExpr": "datum.value % 10 === 0 ? datum.label : ''"}}, "detail": {"field": "model"}}},
 {"data": {"name": "labels"}, "transform": [{"filter": "datum.panel == 7"}], "mark": {"type": "text", "font": "Liberation Sans", "fontWeight": "bold", "fontSize": 15.5, "fill": "#111111"}, "encoding": {"x": {"field": "q", "type": "quantitative"}, "y": {"field": "h", "type": "quantitative"}, "text": {"field": "label"}, "angle": {"field": "label", "type": "nominal", "scale": {"type": "ordinal", "domain": ["※350B475H","350B655H","350B645H","350B637H","350B630H","350B622H"], "range": [26,19,19,19,19,16]}, "legend": null}}},
 {"data": {"name": "panels"}, "transform": [{"filter": "datum.panel == 7"}], "mark": {"type": "text", "font": "Liberation Sans", "fontWeight": "bold", "fontSize": 40, "align": "right", "baseline": "alphabetic", "fill": "#000000"}, "encoding": {"x": {"datum": 18.35}, "y": {"datum": 33.7}, "text": {"field": "freq"}}},
 {"data": {"name": "panels"}, "transform": [{"filter": "datum.panel == 7"}], "mark": {"type": "text", "text": "Hz", "font": "Liberation Sans", "fontWeight": "bold", "fontSize": 19, "align": "right", "baseline": "alphabetic", "fill": "#000000"}, "encoding": {"x": {"datum": 18.55}, "y": {"datum": 30.8}}}
 ]},
{"width": 240, "height": 240, "title": {"text": ["同期回転速度 1200min⁻¹", "※印型式は1800min⁻¹"]},
 "layer": [
 {"data": {"name": "panels"}, "transform": [{"filter": "datum.panel == 8"}], "mark": {"type": "rect", "fill": "#dfe8f4", "stroke": "#111111", "strokeWidth": 1.3}, "encoding": {"x": {"datum": 14}, "x2": {"datum": 19}, "y": {"datum": 30}, "y2": {"datum": 40}}},
 {"data": {"name": "labels"}, "transform": [{"filter": "datum.panel == 8"}], "mark": {"type": "text", "font": "Liberation Sans", "fontWeight": "bold", "fontSize": 15.5, "fill": "#ffffff", "stroke": "#ffffff", "strokeWidth": 5, "strokeJoin": "round"}, "encoding": {"x": {"field": "q", "type": "quantitative"}, "y": {"field": "h", "type": "quantitative"}, "text": {"field": "label"}, "angle": {"field": "label", "type": "nominal", "scale": {"type": "ordinal", "domain": ["※350B475H","350B655H","350B645H","350B637H","350B630H","350B622H"], "range": [29,21,21,21,21,20]}, "legend": null}}},
 {"data": {"name": "curves"}, "transform": [{"filter": "datum.panel == 8"}], "mark": {"type": "line", "color": "#111111", "strokeWidth": 2, "interpolate": "monotone"}, "encoding": {"x": {"field": "q", "type": "quantitative", "scale": {"domain": [0, 19], "nice": false, "zero": false}, "axis": {"title": "吐\u2002 出\u2002 し\u2002 量\u2002 （m ³/m i n）", "titlePadding": 12, "values": [0,2,4,6,8,10,12,14,16,18,19]}}, "y": {"field": "h", "type": "quantitative", "scale": {"domain": [0, 40], "nice": false}, "axis": {"title": ["全","揚","程","（m）"], "titleY": 101, "values": [0,5,10,15,20,25,30,35,40], "labelExpr": "datum.value % 10 === 0 ? datum.label : ''"}}, "detail": {"field": "model"}}},
 {"data": {"name": "labels"}, "transform": [{"filter": "datum.panel == 8"}], "mark": {"type": "text", "font": "Liberation Sans", "fontWeight": "bold", "fontSize": 15.5, "fill": "#111111"}, "encoding": {"x": {"field": "q", "type": "quantitative"}, "y": {"field": "h", "type": "quantitative"}, "text": {"field": "label"}, "angle": {"field": "label", "type": "nominal", "scale": {"type": "ordinal", "domain": ["※350B475H","350B655H","350B645H","350B637H","350B630H","350B622H"], "range": [29,21,21,21,21,20]}, "legend": null}}},
 {"data": {"name": "panels"}, "transform": [{"filter": "datum.panel == 8"}], "mark": {"type": "text", "font": "Liberation Sans", "fontWeight": "bold", "fontSize": 40, "align": "right", "baseline": "alphabetic", "fill": "#000000"}, "encoding": {"x": {"datum": 18.4}, "y": {"datum": 34.5}, "text": {"field": "freq"}}},
 {"data": {"name": "panels"}, "transform": [{"filter": "datum.panel == 8"}], "mark": {"type": "text", "text": "Hz", "font": "Liberation Sans", "fontWeight": "bold", "fontSize": 19, "align": "right", "baseline": "alphabetic", "fill": "#000000"}, "encoding": {"x": {"datum": 18.55}, "y": {"datum": 31.0}}}
 ]}
]}
], "spacing": 38, "resolve": {"scale": {"angle": "independent"}}}
],
"config": {
 "view": {"fill": "#dfe8f4", "stroke": null},
 "axis": {"grid": true, "gridColor": "#111111", "gridWidth": 1.3, "gridOpacity": 1, "domain": false, "ticks": false, "tickCount": 100, "format": "d", "labelFont": "Liberation Sans", "labelFontSize": 13.5, "labelColor": "#222222", "labelPadding": 6, "labelFlush": false, "labelOverlap": false, "labelBound": false, "titleFont": "Noto Sans CJK JP", "titleFontSize": 15, "titleFontWeight": "normal", "titleColor": "#333333"},
 "axisX": {"titlePadding": 16, "labelPadding": 7},
 "axisY": {"titleAngle": 0, "titleX": -41, "titleY": 87, "titleAlign": "center", "titleBaseline": "middle", "titleLineHeight": 19, "titleFontSize": 16},
 "title": {"font": "Noto Sans CJK JP", "fontSize": 14.5, "fontWeight": "normal", "color": "#333333", "anchor": "end", "frame": "group", "lineHeight": 17, "offset": -4},
 "text": {"align": "center", "baseline": "middle"}
}
}
